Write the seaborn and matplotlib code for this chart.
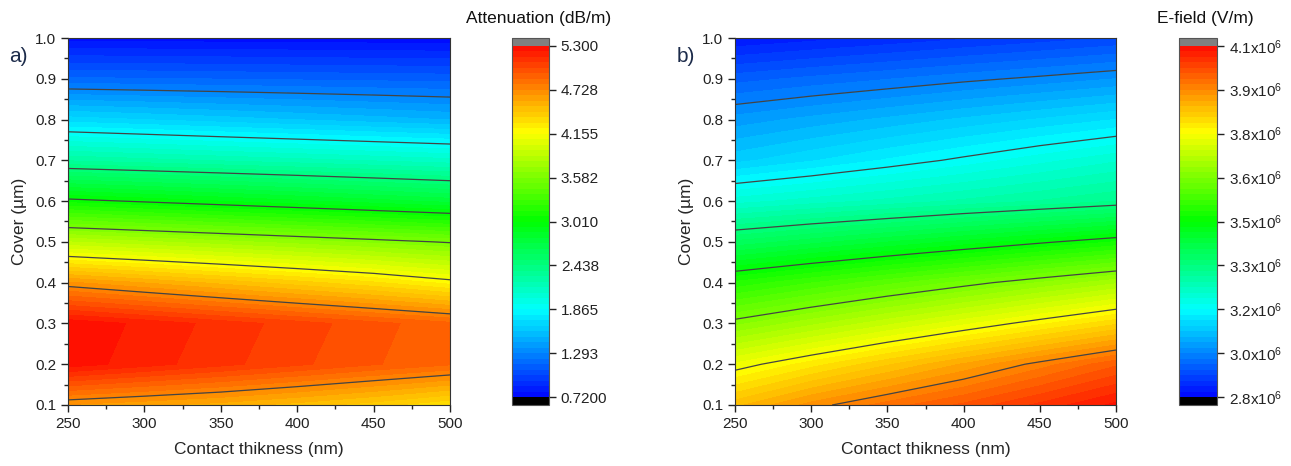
import numpy as np
import matplotlib
matplotlib.use("Agg")
import matplotlib.pyplot as plt
import seaborn as sns
from matplotlib.colors import LinearSegmentedColormap, BoundaryNorm
from matplotlib.ticker import MultipleLocator

# ---------------- data ----------------
contact_nm = [250, 300, 350, 400, 450, 500]
cover_um = [0.1, 0.2, 0.3, 0.4, 0.5, 0.6, 0.7, 0.8, 0.9, 1.0]

# Attenuation (dB/m); rows = cover, cols = contact thickness
att_c01 = [4.65, 4.60, 4.55, 4.48, 4.40, 4.30]
att_c02 = [5.27, 5.19, 5.11, 5.03, 4.95, 4.88]
att_c03 = [5.285, 5.21, 5.13, 5.05, 4.97, 4.89]
att_c04 = [4.67, 4.58, 4.49, 4.40, 4.31, 4.20]
att_c05 = [3.87, 3.81, 3.75, 3.69, 3.63, 3.57]
att_c06 = [3.05, 2.994, 2.938, 2.882, 2.826, 2.77]
att_c07 = [2.285, 2.249, 2.213, 2.178, 2.142, 2.106]
att_c08 = [1.685, 1.649, 1.612, 1.576, 1.539, 1.503]
att_c09 = [1.162, 1.154, 1.146, 1.137, 1.129, 1.121]
att_c10 = [0.76, 0.756, 0.752, 0.748, 0.744, 0.74]

# E-field (x10^6 V/m)
ef_c01 = [3.88, 3.935, 3.975, 4.01, 4.05, 4.09]
ef_c02 = [3.772, 3.818, 3.864, 3.909, 3.955, 4.001]
ef_c03 = [3.643, 3.683, 3.723, 3.763, 3.803, 3.843]
ef_c04 = [3.516, 3.550, 3.584, 3.617, 3.651, 3.685]
ef_c05 = [3.358, 3.385, 3.412, 3.439, 3.466, 3.493]
ef_c06 = [3.206, 3.224, 3.241, 3.259, 3.276, 3.294]
ef_c07 = [3.09, 3.114, 3.139, 3.163, 3.188, 3.212]
ef_c08 = [3.026, 3.044, 3.062, 3.081, 3.099, 3.117]
ef_c09 = [2.95, 2.964, 2.977, 2.991, 3.004, 3.018]
ef_c10 = [2.86, 2.872, 2.884, 2.896, 2.908, 2.92]

att_range = [0.72, 5.30]
ef_range = [2.84, 4.104]
att_ticklabels = ["0.7200", "1.293", "1.865", "2.438", "3.010", "3.582", "4.155", "4.728", "5.300"]
ef_ticklabels = ["2.8", "3.0", "3.2", "3.3", "3.5", "3.6", "3.8", "3.9", "4.1"]

# ---------------- style ----------------
sns.set_style("ticks")
plt.rcParams['font.family'] = ['Liberation Sans', 'DejaVu Sans']
plt.rcParams['mathtext.fontset'] = 'custom'
plt.rcParams['mathtext.rm'] = 'Liberation Sans'
plt.rcParams['mathtext.it'] = 'Liberation Sans'

cmap = LinearSegmentedColormap.from_list(
    "origin_rainbow", ["#0000ff", "#00ffff", "#00ff00", "#ffff00", "#ff0000"], N=256)
cmap.set_over("#808080")
cmap.set_under("#000000")

fig = plt.figure(figsize=(12.91, 4.66), dpi=100)
W, H = 1291, 466


def ax_rect(l, r, t, b):
    return [l / W, 1 - b / H, (r - l) / W, (b - t) / H]


def panel(Z, vrange, ax_box, cax_box, title, ticklabels, letter, letter_x, scale=1.0, sup=False):
    ax = fig.add_axes(ax_rect(*ax_box))
    cax = fig.add_axes(ax_rect(*cax_box))
    X, Y = np.meshgrid(contact_nm, cover_um)
    Z = np.asarray(Z) * scale
    vmin, vmax = vrange[0] * scale, vrange[1] * scale
    levels = np.linspace(vmin, vmax, 65)
    norm = BoundaryNorm(levels, cmap.N, extend='both')
    cs = ax.contourf(X, Y, Z, levels=levels, cmap=cmap, norm=norm, extend='both')
    line_levels = np.linspace(vmin, vmax, 9)[1:-1]
    ax.contour(X, Y, Z, levels=line_levels, colors="#444444", linewidths=0.9)
    ax.set_xlim(250, 500)
    ax.set_ylim(0.1, 1.0)
    ax.set_xticks([250, 300, 350, 400, 450, 500])
    ax.set_yticks(np.round(np.arange(0.1, 1.01, 0.1), 1))
    ax.set_yticklabels([f"{v:.1f}" for v in np.arange(0.1, 1.01, 0.1)])
    ax.xaxis.set_minor_locator(MultipleLocator(25))
    ax.yaxis.set_minor_locator(MultipleLocator(0.05))
    ax.tick_params(which='major', direction='out', length=5, width=1, labelsize=11,
                   colors="#222222", top=False, right=False)
    ax.tick_params(which='minor', direction='out', length=3, width=1,
                   top=False, right=False)
    for s in ax.spines.values():
        s.set_linewidth(0.8)
        s.set_color("#333333")
    ax.set_xlabel("Contact thikness (nm)", fontsize=12.5, labelpad=8)
    ax.set_ylabel("Cover (µm)", fontsize=12.5, labelpad=6)

    cb = fig.colorbar(cs, cax=cax, extend='both', extendrect=True, extendfrac=0.022,
                      drawedges=False)
    ticks = np.linspace(vmin, vmax, 9)
    cb.set_ticks(ticks)
    if sup:
        cb.set_ticklabels([rf"{t}x10$^{{6}}$" for t in ticklabels])
    else:
        cb.set_ticklabels(ticklabels)
    cb.ax.tick_params(direction='out', length=5, width=1, labelsize=11, colors="#222222")
    cb.outline.set_linewidth(0.8)
    cb.outline.set_edgecolor("#555555")
    cb.ax.minorticks_off()
    cx = (cax_box[0] + cax_box[1]) / 2 / W
    fig.text(cx + 0.006, 1 - 18 / H, title, ha='center', va='center', fontsize=12.5, color="#111111")
    fig.text(letter_x / W, 1 - 57 / H, letter, ha='left', va='center', fontsize=15, color="#1c2b4a")
    return ax


att_Z = [att_c01, att_c02, att_c03, att_c04, att_c05, att_c06, att_c07, att_c08, att_c09, att_c10]
ef_Z = [ef_c01, ef_c02, ef_c03, ef_c04, ef_c05, ef_c06, ef_c07, ef_c08, ef_c09, ef_c10]

panel(att_Z, att_range, (68, 450, 38, 405), (512, 549, 38, 405), "Attenuation (dB/m)",
      att_ticklabels, "a)", 9)
panel(ef_Z, ef_range, (735, 1116, 38, 405), (1179, 1217, 38, 405), "E-field (V/m)",
      ef_ticklabels, "b)", 677, scale=1e6, sup=True)

fig.savefig("out.png", dpi=100)
